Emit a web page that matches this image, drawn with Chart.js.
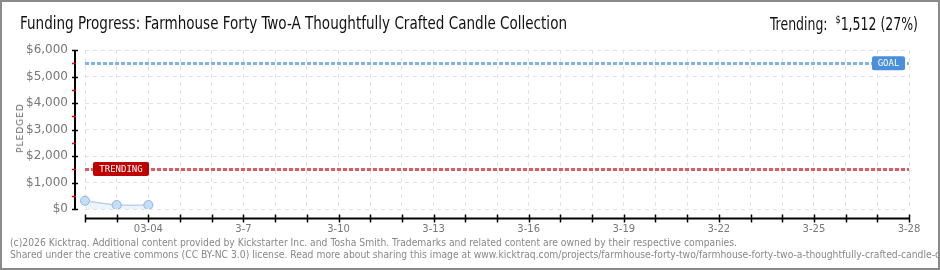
<!DOCTYPE html>
<html>
<head>
<meta charset="utf-8">
<script src="https://cdn.jsdelivr.net/npm/chart.js@4/dist/chart.umd.min.js"></script>
<style>
  html, body { margin: 0; padding: 0; background: #fff; }
  #wrap { position: relative; width: 940px; height: 270px; overflow: hidden; }
  #frame { position: absolute; left: 0; top: 0; width: 936px; height: 266px; border: 2px solid #8a8a8a; pointer-events: none; }
  #chartBox { position: absolute; left: 0; top: 0; width: 940px; height: 270px; }
  .txt { position: absolute; white-space: nowrap; transform-origin: 0 0; }
  #title { left: 20px; top: 13px; font: 17px "Liberation Sans Narrow", "DejaVu Sans Condensed", sans-serif; color: #111; }
  #trend { top: 13px; font: 17px "Liberation Sans Narrow", "DejaVu Sans Condensed", sans-serif; color: #111; }
  #trend sup { font-size: 11px; }
  .foot { left: 10px; font: 10px "DejaVu Sans", sans-serif; color: #888; }
  #yTitle { left: 20px; top: 128px; font: 9px "DejaVu Sans", sans-serif; color: #666; letter-spacing: 1px;
            transform: translate(-50%, -50%) rotate(-90deg); transform-origin: 50% 50%; }
</style>
</head>
<body>
<div id="wrap">
  <div id="chartBox"><canvas id="fundingChart"></canvas></div>
  <div class="txt" id="title">Funding Progress: Farmhouse Forty Two-A Thoughtfully Crafted Candle Collection</div>
  <div class="txt" id="trend">Trending:&nbsp; <sup>$</sup>1,512 (27%)</div>
  <div class="txt" id="yTitle">PLEDGED</div>
  <div class="txt foot" id="foot1" style="top:237px">(c)2026 Kicktraq. Additional content provided by Kickstarter Inc. and Tosha Smith. Trademarks and related content are owned by their respective companies.</div>
  <div class="txt foot" id="foot2" style="top:249px">Shared under the creative commons (CC BY-NC 3.0) license. Read more about sharing this image at www.kicktraq.com/projects/farmhouse-forty-two/farmhouse-forty-two-a-thoughtfully-crafted-candle-collection/</div>
  <div id="frame"></div>
</div>
<script>
// days on the x axis (one gridline per day)
const days = ["3-2", "3-3", "3-4", "3-5", "3-6", "3-7", "3-8", "3-9", "3-10", "3-11", "3-12", "3-13", "3-14",
              "3-15", "3-16", "3-17", "3-18", "3-19", "3-20", "3-21", "3-22", "3-23", "3-24", "3-25", "3-26", "3-27", "3-28"];
// pledged total per day (only first days have data)
const pledged = [310, 150, 150];
// which days get a label, and the text shown
const labeledDays = ["3-4", "3-7", "3-10", "3-13", "3-16", "3-19", "3-22", "3-25", "3-28"];
const tickText = ["03-04", "3-7", "3-10", "3-13", "3-16", "3-19", "3-22", "3-25", "3-28"];
const goal = 5500;
const trending = 1512;
const yMax = 6000;

// squeeze text blocks to the width they have in the picture
function fitWidth(id, w) {
    const el = document.getElementById(id);
    const k = w / el.getBoundingClientRect().width;
    el.style.transform = "scaleX(" + k + ")";
    return k;
}
fitWidth("title", 547);
const footK = fitWidth("foot1", 727);
document.getElementById("foot2").style.transform = "scaleX(" + footK + ")";
const tr = document.getElementById("trend");
fitWidth("trend", 148);
tr.style.left = "770px";

function tag(ctx, text, x, y, w, bg) {
    ctx.save();
    ctx.fillStyle = bg;
    ctx.beginPath();
    ctx.roundRect(x, y - 7, w, 14, 2);
    ctx.fill();
    ctx.fillStyle = "#fff";
    ctx.font = "9px 'DejaVu Sans Mono', monospace";
    ctx.textBaseline = "middle";
    ctx.textAlign = "center";
    ctx.fillText(text, x + w / 2, y + 0.5);
    ctx.restore();
}

const refLines = {
    id: "refLines",
    beforeDatasetsDraw(chart) {
        const { ctx, chartArea: a, scales: { x, y } } = chart;
        ctx.save();
        ctx.lineWidth = 3;
        ctx.setLineDash([4, 2]);
        [[goal, "#7fb3ea"], [trending, "#dc5c62"]].forEach(([v, c]) => {
            const py = Math.round(y.getPixelForValue(v)) + 0.5;
            ctx.strokeStyle = c;
            ctx.beginPath();
            ctx.moveTo(a.left, py);
            ctx.lineTo(a.right, py);
            ctx.stroke();
        });
        ctx.restore();
    },
    afterDraw(chart) {
        const { ctx, chartArea: a, scales: { x, y } } = chart;
        ctx.save();
        // y axis
        const ax = a.left - 10;
        ctx.strokeStyle = "#000";
        ctx.lineWidth = 2;
        ctx.beginPath();
        ctx.moveTo(ax, y.getPixelForValue(yMax));
        ctx.lineTo(ax, y.getPixelForValue(0));
        ctx.stroke();
        ctx.lineWidth = 1.5;
        for (let v = 0; v <= yMax; v += 500) {
            const py = Math.round(y.getPixelForValue(v)) + 0.5;
            ctx.strokeStyle = v % 1000 === 0 ? "#000" : "#e00000";
            ctx.beginPath();
            ctx.moveTo(ax - 3, py);
            ctx.lineTo(ax + (v % 1000 === 0 ? 3 : 1), py);
            ctx.stroke();
        }
        // x axis
        const ay = a.bottom + 9.5;
        ctx.strokeStyle = "#000";
        ctx.lineWidth = 2;
        ctx.beginPath();
        ctx.moveTo(a.left, ay);
        ctx.lineTo(a.right, ay);
        ctx.stroke();
        ctx.lineWidth = 1.5;
        days.forEach((d, i) => {
            const px = Math.round(x.getPixelForValue(i)) + 0.5;
            ctx.beginPath();
            ctx.moveTo(px, ay - 4);
            ctx.lineTo(px, ay + 4);
            ctx.stroke();
        });
        ctx.restore();
        tag(ctx, "GOAL", a.right - 37, y.getPixelForValue(goal), 33, "#4a8fdc");
        tag(ctx, "TRENDING", a.left + 8, y.getPixelForValue(trending), 56, "#c00000");
    }
};

document.addEventListener("DOMContentLoaded", function () {
    const ctx = document.getElementById("fundingChart");
    new Chart(ctx, {
        type: "line",
        data: {
            labels: days,
            datasets: [{
                label: "Pledged",
                data: pledged,
                borderColor: "#b9d3f0",
                borderWidth: 1.5,
                backgroundColor: "rgba(215,232,248,0.45)",
                fill: "origin",
                tension: 0.3,
                pointRadius: 4.5,
                pointBackgroundColor: "#c6ddf6",
                pointBorderColor: "#8db5e2",
                pointBorderWidth: 1
            }]
        },
        options: {
            responsive: true,
            maintainAspectRatio: false,
            animation: false,
            layout: { padding: { top: 50, right: 31, left: 0, bottom: 0 } },
            plugins: { legend: { display: false }, tooltip: { enabled: false } },
            scales: {
                x: {
                    afterFit: s => { s.height = 61; },
                    border: { display: false, dash: [4, 4] },
                    grid: { color: "#e2e2e2", drawTicks: false, lineWidth: 1 },
                    ticks: {
                        autoSkip: false, maxRotation: 0, padding: 14,
                        color: "#777", font: { family: "DejaVu Sans", size: 10 },
                        callback: function (v, i) {
                            const k = labeledDays.indexOf(days[i]);
                            return k >= 0 ? tickText[k] : "";
                        }
                    }
                },
                y: {
                    min: 0, max: yMax,
                    afterFit: s => { s.width = 85; },
                    border: { display: false, dash: [4, 4] },
                    grid: { color: "#e2e2e2", drawTicks: false },
                    ticks: {
                        stepSize: 1000, padding: 17,
                        color: "#777", font: { family: "DejaVu Sans", size: 12 },
                        callback: v => "$" + v.toLocaleString("en-US")
                    }
                }
            }
        },
        plugins: [refLines]
    });
});
</script>
</body>
</html>
